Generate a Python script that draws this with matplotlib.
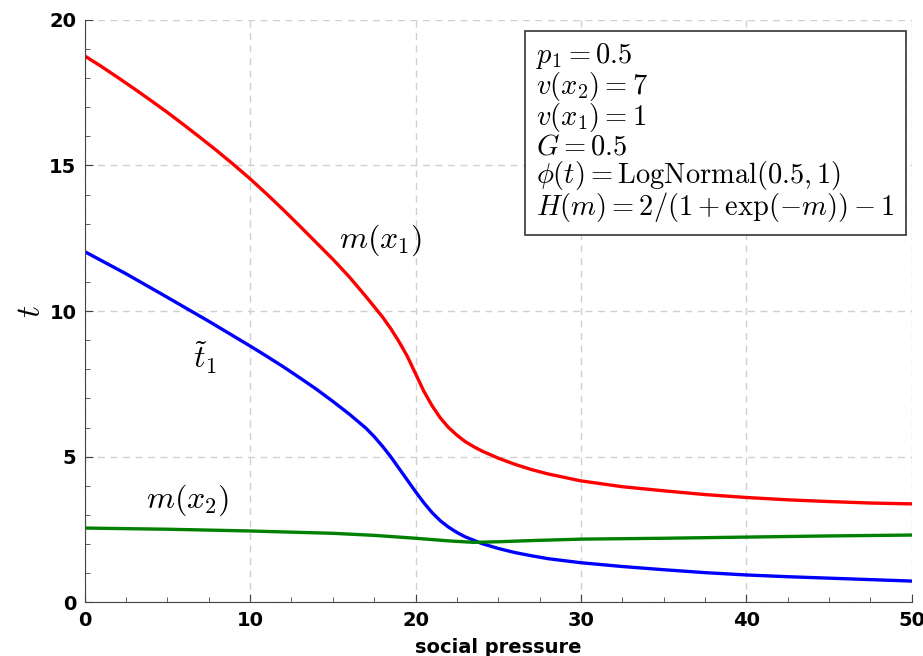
import matplotlib
matplotlib.use("Agg")
import matplotlib.pyplot as plt
from matplotlib.ticker import MultipleLocator

plt.rcParams['mathtext.fontset'] = 'cm'

# curves
x_red = [0, 1, 2, 3, 4, 5, 6, 7, 8, 9, 10, 11, 12, 13, 14, 15, 16, 17, 18, 18.5,
         19, 19.5, 20, 20.5, 21, 21.5, 22, 22.5, 23, 23.5, 24, 25, 26, 27, 28, 30,
         32.5, 35, 37.5, 40, 42.5, 45, 47.5, 50]
m_x1 = [18.76, 18.4, 18.02, 17.63, 17.23, 16.82, 16.39, 15.95, 15.5, 15.03, 14.54,
        14.02, 13.48, 12.92, 12.35, 11.78, 11.17, 10.5, 9.8, 9.4, 8.95, 8.45, 7.85,
        7.25, 6.75, 6.33, 6.0, 5.74, 5.52, 5.35, 5.2, 4.95, 4.74, 4.56, 4.41, 4.17,
        3.97, 3.83, 3.7, 3.6, 3.52, 3.46, 3.41, 3.38]

x_blue = [0, 2.5, 5, 7.5, 10, 11, 12, 13, 14, 15, 16, 17, 17.5, 18, 18.5, 19, 19.5,
          20, 20.5, 21, 21.5, 22, 22.5, 23, 24, 25, 26, 27, 28, 30, 32.5, 35, 37.5,
          40, 42.5, 45, 47.5, 50]
t_1 = [12.04, 11.28, 10.47, 9.65, 8.8, 8.45, 8.09, 7.71, 7.32, 6.9, 6.46, 5.98, 5.69,
       5.36, 5.0, 4.6, 4.2, 3.8, 3.42, 3.08, 2.8, 2.58, 2.4, 2.25, 2.02, 1.85, 1.71,
       1.6, 1.5, 1.36, 1.23, 1.12, 1.02, 0.94, 0.88, 0.83, 0.78, 0.73]

x_green = [0, 5, 10, 15, 17.5, 20, 22, 23.5, 25, 27, 30, 35, 40, 45, 50]
m_x2 = [2.55, 2.51, 2.45, 2.37, 2.3, 2.2, 2.11, 2.06, 2.08, 2.12, 2.17, 2.2, 2.24, 2.28,
        2.31]

params = [r'$p_1 = 0.5$',
          r'$v(x_2) = 7$',
          r'$v(x_1) = 1$',
          r'$G = 0.5$',
          r'$\phi(t) = \mathrm{LogNormal}(0.5, 1)$',
          r'$H(m) = 2/(1 + \exp(-m)) - 1$']

fig = plt.figure(figsize=(9.23, 6.56), dpi=100)
ax = fig.add_axes([0.0918, 0.0818, 0.896, 0.888])

ax.plot(x_red, m_x1, color='#ff0000', lw=2.4)
ax.plot(x_blue, t_1, color='#0000ff', lw=2.4)
ax.plot(x_green, m_x2, color='#008000', lw=2.4)

ax.text(17.9, 12.44, r'$m(x_1)$', fontsize=23, ha='center', va='center')
ax.text(7.3, 8.4, r'$\tilde{t}_1$', fontsize=23, ha='center', va='center')
ax.text(6.2, 3.51, r'$m(x_2)$', fontsize=23, ha='center', va='center')

ax.text(0.546, 0.963, '\n'.join(params), transform=ax.transAxes, fontsize=20.5,
        ha='left', va='top', linespacing=0.93,
        bbox=dict(boxstyle='square,pad=0.4', fc='white', ec='#333333', lw=1.2))

ax.set_xlim(0, 50)
ax.set_ylim(0, 20)
ax.xaxis.set_major_locator(MultipleLocator(10))
ax.xaxis.set_minor_locator(MultipleLocator(2.5))
ax.yaxis.set_major_locator(MultipleLocator(5))
ax.yaxis.set_minor_locator(MultipleLocator(1))
ax.tick_params(which='both', direction='in', color='#444444')
ax.tick_params(which='major', length=6, labelsize=14, pad=6)
ax.tick_params(which='minor', length=3.5)
for lbl in ax.get_xticklabels() + ax.get_yticklabels():
    lbl.set_fontweight('bold')

ax.spines['top'].set_visible(False)
ax.spines['right'].set_visible(False)
ax.spines['left'].set_color('#444444')
ax.spines['bottom'].set_color('#444444')
ax.grid(True, which='major', ls=(0, (5, 4)), color='#d0d0d0', lw=1)

ax.set_xlabel('social pressure', fontsize=14, fontweight='bold', labelpad=6)
ax.set_ylabel(r'$t$', fontsize=24)
ax.yaxis.set_label_coords(-0.046, 0.5)

fig.savefig('out.png', dpi=100)
